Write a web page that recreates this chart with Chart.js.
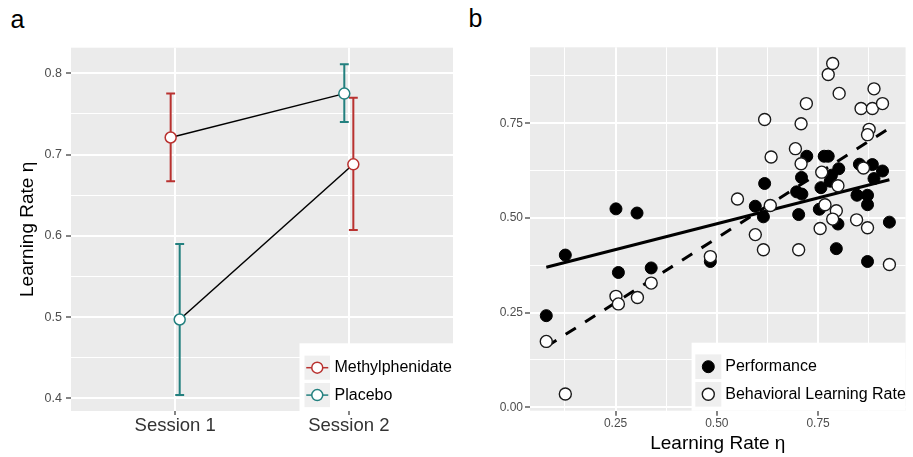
<!DOCTYPE html>
<html><head><meta charset="utf-8">
<script src="https://cdn.jsdelivr.net/npm/chart.js@4"></script>
<style>
html,body{margin:0;padding:0;background:#fff;width:913px;height:457px;overflow:hidden;font-family:"Liberation Sans",Arial,sans-serif}
#ca{position:absolute;left:0;top:0}
#cb{position:absolute;left:460px;top:0}
.lab{position:absolute;font-size:25px;color:#000;line-height:1;font-family:"Liberation Sans",Arial,sans-serif}
</style></head><body>
<div class="lab" style="left:10.5px;top:6.8px">a</div>
<div class="lab" style="left:468.5px;top:6.3px">b</div>
<canvas id="ca" width="460" height="457"></canvas>
<canvas id="cb" width="453" height="457"></canvas>
<script>
// ---------- Panel a data ----------
const sessions = ['Session 1', 'Session 2'];
const mphMean = [0.721, 0.688];
const mphLow  = [0.667, 0.607];
const mphHigh = [0.775, 0.770];
const plaMean = [0.497, 0.775];
const plaLow  = [0.404, 0.740];
const plaHigh = [0.590, 0.811];
const yTicksA = [0.4, 0.5, 0.6, 0.7, 0.8];
const yTickLabelsA = ['0.4', '0.5', '0.6', '0.7', '0.8'];
const yMinorA = [0.45, 0.55, 0.65, 0.75];

// ---------- Panel b data ----------
const perfX = [0.079,0.126,0.251,0.257,0.303,0.338,0.484,0.595,0.615,0.618,0.702,0.697,0.710,0.709,0.722,0.765,0.775,0.757,0.753,0.783,0.780,0.801,0.799,0.795,0.852,0.884,0.909,0.888,0.846,0.872,0.872,0.926,0.872];
const perfY = [0.242,0.402,0.524,0.356,0.513,0.368,0.385,0.531,0.503,0.591,0.509,0.569,0.563,0.607,0.663,0.663,0.663,0.580,0.523,0.613,0.597,0.630,0.484,0.419,0.642,0.641,0.624,0.604,0.560,0.560,0.535,0.489,0.385];
const blrX = [0.079,0.126,0.251,0.257,0.304,0.338,0.484,0.551,0.595,0.615,0.618,0.632,0.634,0.694,0.702,0.708,0.708,0.721,0.759,0.767,0.775,0.786,0.802,0.799,0.795,0.786,0.755,0.845,0.872,0.926,0.856,0.884,0.909,0.888,0.876,0.872,0.862];
const blrY = [0.174,0.035,0.293,0.273,0.290,0.328,0.398,0.550,0.456,0.416,0.760,0.533,0.661,0.683,0.416,0.643,0.749,0.802,0.621,0.535,0.879,0.908,0.829,0.585,0.519,0.497,0.472,0.495,0.474,0.377,0.789,0.789,0.802,0.841,0.734,0.720,0.632];
const fitX = [0.079, 0.926];
const perfFitY = [0.370, 0.601];
const blrFitY = [0.160, 0.737];
const ticksB = [0, 0.25, 0.5, 0.75];
const tickLabelsB = ['0.00', '0.25', '0.50', '0.75'];
const minorB = [0.125, 0.375, 0.625, 0.875];

// ---------- styles ----------
const FONT = '"Liberation Sans", Arial, sans-serif';
const RED = '#B93230';
const TEAL = '#23807F';
const PANEL = '#EBEBEB';
const KEYBG = '#EFEFEF';
const D = 0.026;      // dodge
const CAP = 0.0256;   // half errorbar cap width (x units)
const mphOff = [-D, D];
const plaOff = [D, -D];

function mkTicks(major, minor) {
  return major.map(v => ({value: v, major: true}))
    .concat(minor.map(v => ({value: v, major: false})))
    .sort((a, b) => a.value - b.value);
}
const gridW = c => (c.tick && c.tick.major) ? 2 : 1;
const tickC = c => (c.tick && c.tick.major) ? '#333333' : 'rgba(0,0,0,0)';

const bgPlugin = {
  id: 'panelBg',
  beforeDraw(chart) {
    const a = chart.chartArea, ctx = chart.ctx;
    ctx.save(); ctx.fillStyle = PANEL;
    ctx.fillRect(a.left, a.top, a.right - a.left, a.bottom - a.top);
    ctx.restore();
  }
};

const errPlugin = {
  id: 'errBars',
  beforeDatasetsDraw(chart) {
    const xs = chart.scales.x, ys = chart.scales.y, ctx = chart.ctx;
    chart.data.datasets.forEach(ds => {
      if (!ds.err) return;
      ctx.save(); ctx.strokeStyle = ds.pointBorderColor; ctx.lineWidth = 2;
      ds.data.forEach((p, i) => {
        const x = xs.getPixelForValue(p.x);
        const w = xs.getPixelForValue(p.x + CAP) - x;
        const yl = ys.getPixelForValue(ds.err.low[i]);
        const yh = ys.getPixelForValue(ds.err.high[i]);
        ctx.beginPath();
        ctx.moveTo(x, yh); ctx.lineTo(x, yl);
        ctx.moveTo(x - w, yh); ctx.lineTo(x + w, yh);
        ctx.moveTo(x - w, yl); ctx.lineTo(x + w, yl);
        ctx.stroke();
      });
      ctx.restore();
    });
  }
};

const legendPlugin = {
  id: 'ggLegend',
  afterDraw(chart, args, o) {
    if (!o || !o.items) return;
    const ctx = chart.ctx, ca = chart.chartArea;
    const left = ca.right - o.width, top = ca.bottom - o.height;
    ctx.save();
    ctx.fillStyle = '#fff';
    ctx.fillRect(left, top, o.width, o.height);
    o.items.forEach((it, i) => {
      const ds = chart.data.datasets[it.ds];
      const cy = top + o.rows[i];
      ctx.fillStyle = KEYBG;
      ctx.fillRect(left + o.keyLeft, cy - o.keySize / 2 + 0.7, o.keySize, o.keySize - 1.4);
      const cx = left + o.keyLeft + o.keySize / 2;
      if (it.kind === 'errpoint') {
        ctx.strokeStyle = ds.pointBorderColor; ctx.lineWidth = 1.5;
        ctx.beginPath(); ctx.moveTo(cx - 11, cy); ctx.lineTo(cx + 11, cy); ctx.stroke();
        ctx.beginPath(); ctx.arc(cx, cy, 5.5, 0, Math.PI * 2);
        ctx.fillStyle = '#fff'; ctx.fill(); ctx.stroke();
      } else {
        ctx.beginPath(); ctx.arc(cx, cy, ds.pointRadius, 0, Math.PI * 2);
        ctx.fillStyle = ds.pointBackgroundColor; ctx.fill();
        ctx.strokeStyle = ds.pointBorderColor; ctx.lineWidth = ds.pointBorderWidth; ctx.stroke();
      }
      ctx.fillStyle = '#000'; ctx.font = o.fontSize + 'px ' + FONT;
      ctx.textBaseline = 'middle'; ctx.textAlign = 'left';
      ctx.fillText(ds.label, left + o.textLeft, cy);
    });
    ctx.restore();
  }
};

// ---------- Chart a ----------
new Chart(document.getElementById('ca'), {
  type: 'scatter',
  plugins: [bgPlugin, errPlugin, legendPlugin],
  data: {
    datasets: [
      {label: 'Methylphenidate', data: sessions.map((s, i) => ({x: i + mphOff[i], y: mphMean[i]})),
       err: {low: mphLow, high: mphHigh}, showLine: false,
       pointRadius: 5.5, pointBorderWidth: 1.5, pointBackgroundColor: '#fff', pointBorderColor: RED, order: 0},
      {label: 'Placebo', data: sessions.map((s, i) => ({x: i + plaOff[i], y: plaMean[i]})),
       err: {low: plaLow, high: plaHigh}, showLine: false,
       pointRadius: 5.5, pointBorderWidth: 1.5, pointBackgroundColor: '#fff', pointBorderColor: TEAL, order: 1},
      {label: 'Methylphenidate first', data: [{x: 0 + mphOff[0], y: mphMean[0]}, {x: 1 + plaOff[1], y: plaMean[1]}],
       showLine: true, borderColor: '#000', borderWidth: 1.5, pointRadius: 0, order: 2},
      {label: 'Placebo first', data: [{x: 0 + plaOff[0], y: plaMean[0]}, {x: 1 + mphOff[1], y: mphMean[1]}],
       showLine: true, borderColor: '#000', borderWidth: 1.5, pointRadius: 0, order: 3}
    ]
  },
  options: {
    responsive: false, animation: false, events: [],
    layout: {padding: {top: 47.7, right: 2.3, left: 0, bottom: 0}},
    plugins: {
      legend: {display: false}, tooltip: {enabled: false},
      ggLegend: {width: 153.5, height: 67.7, keyLeft: 5, keySize: 25.5, rows: [24.4, 51.8], textLeft: 35, fontSize: 16,
                 items: [{ds: 0, kind: 'errpoint'}, {ds: 1, kind: 'errpoint'}]}
    },
    scales: {
      x: {
        type: 'linear', min: -0.6, max: 1.6,
        afterBuildTicks: s => { s.ticks = sessions.map((_, i) => ({value: i, major: true})); },
        afterFit: s => { s.height = 46; },
        ticks: {autoSkip: false, maxRotation: 0, padding: 0, color: '#333', font: {family: FONT, size: 18.5},
                callback: v => sessions[v] !== undefined ? sessions[v] : ''},
        grid: {color: '#fff', lineWidth: 2, tickLength: 4, tickColor: '#333', tickWidth: 1.2},
        border: {display: false}
      },
      y: {
        type: 'linear', min: 0.3844, max: 0.8315,
        afterBuildTicks: s => { s.ticks = mkTicks(yTicksA, yMinorA); },
        afterFit: s => { s.width = 71; },
        ticks: {autoSkip: false, padding: 4, color: '#4D4D4D', font: {family: FONT, size: 12.5},
                callback: (v, i, t) => t[i].major ? yTickLabelsA[yTicksA.indexOf(v)] : ''},
        grid: {color: '#fff', lineWidth: gridW, tickLength: 5, tickColor: tickC, tickWidth: 1.2},
        border: {display: false},
        title: {display: true, text: 'Learning Rate η', color: '#000', font: {family: FONT, size: 19, lineHeight: 1.2},
                padding: {top: 16, bottom: 0}}
      }
    }
  }
});

// ---------- Chart b ----------
new Chart(document.getElementById('cb'), {
  type: 'scatter',
  plugins: [bgPlugin, legendPlugin],
  data: {
    datasets: [
      {label: 'Behavioral Learning Rate', data: blrX.map((x, i) => ({x: x, y: blrY[i]})),
       pointRadius: 6, pointBorderWidth: 1.4, pointBackgroundColor: '#fff', pointBorderColor: '#1a1a1a', order: 0},
      {label: 'Performance', data: perfX.map((x, i) => ({x: x, y: perfY[i]})),
       pointRadius: 6, pointBorderWidth: 1, pointBackgroundColor: '#000', pointBorderColor: '#000', order: 1},
      {label: 'Performance fit', data: fitX.map((x, i) => ({x: x, y: perfFitY[i]})),
       showLine: true, borderColor: '#000', borderWidth: 3, pointRadius: 0, order: 2},
      {label: 'Behavioral Learning Rate fit', data: fitX.map((x, i) => ({x: x, y: blrFitY[i]})),
       showLine: true, borderColor: '#000', borderWidth: 3, borderDash: [12, 11], pointRadius: 0, order: 3}
    ]
  },
  options: {
    responsive: false, animation: false, events: [],
    layout: {padding: {top: 47.3, right: 1, left: 0, bottom: 0}},
    plugins: {
      legend: {display: false}, tooltip: {enabled: false},
      ggLegend: {width: 214, height: 68, keyLeft: 3.7, keySize: 26, rows: [24, 51.6], textLeft: 33.7, fontSize: 16,
                 items: [{ds: 1, kind: 'pt'}, {ds: 0, kind: 'pt'}]}
    },
    scales: {
      x: {
        type: 'linear', min: 0.0388, max: 0.966,
        afterBuildTicks: s => { s.ticks = mkTicks(ticksB.slice(1), minorB); },
        afterFit: s => { s.height = 46.3; },
        ticks: {autoSkip: false, maxRotation: 0, padding: 1, color: '#4D4D4D', font: {family: FONT, size: 12},
                callback: (v, i, t) => t[i].major ? tickLabelsB[ticksB.indexOf(v)] : ''},
        grid: {color: '#fff', lineWidth: gridW, tickLength: 5, tickColor: tickC, tickWidth: 1.2},
        border: {display: false},
        title: {display: true, text: 'Learning Rate η', color: '#000', font: {family: FONT, size: 19, lineHeight: 1.2},
                padding: {top: 0, bottom: 2.1}}
      },
      y: {
        type: 'linear', min: -0.009, max: 0.9507,
        afterBuildTicks: s => { s.ticks = mkTicks(ticksB, minorB); },
        afterFit: s => { s.width = 70; },
        ticks: {autoSkip: false, padding: 2, color: '#4D4D4D', font: {family: FONT, size: 12},
                callback: (v, i, t) => t[i].major ? tickLabelsB[ticksB.indexOf(v)] : ''},
        grid: {color: '#fff', lineWidth: gridW, tickLength: 5, tickColor: tickC, tickWidth: 1.2},
        border: {display: false}
      }
    }
  }
});
</script>
</body></html>
